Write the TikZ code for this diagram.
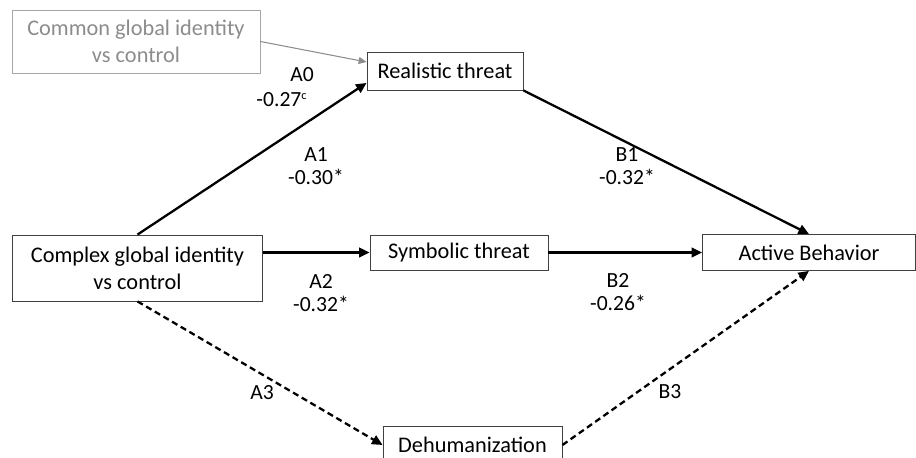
\documentclass[tikz,border=0pt]{standalone}
\usepackage{fontspec}
\setmainfont{Carlito}
\usepackage{tikz}
\usetikzlibrary{positioning,calc,arrows.meta}

\begin{document}
\begin{tikzpicture}[->, >={Triangle[length=6pt,width=5.5pt]},
 box/.style = {rectangle, draw=black!75, line width=0.5pt, inner sep=2pt, align=center, font=\fontsize{12.7}{15.5}\selectfont},
 lbl/.style = {align=center, inner sep=0pt, font=\fontsize{12.3}{12.8}\selectfont},
 every edge/.append style={line width=1.3pt},
 dashedge/.style={dash pattern=on 3.5pt off 2.2pt}]

\useasboundingbox (0,0) rectangle (18.32,-9.16);

% boxes
\node[box, draw=black!35, text=black!45, minimum width=4.96cm, minimum height=1.26cm] (common) at (2.72,-0.83) {Common global identity\\vs control};
\node[box, minimum width=3.12cm, minimum height=0.76cm] (real) at (8.90,-1.42) {Realistic threat};
\node[box, minimum width=5.0cm, minimum height=1.32cm] (cplx) at (2.75,-5.36) {Complex global identity\\vs control};
\node[box, minimum width=3.56cm, minimum height=0.70cm] (symb) at (9.18,-5.05) {Symbolic threat};
\node[box, minimum width=4.26cm, minimum height=0.72cm] (act) at (16.18,-5.05) {Active Behavior};
\node[box, minimum width=3.58cm, minimum height=0.76cm] (dehum) at (9.45,-8.90) {Dehumanization};

% labels
\node[lbl] (a0) at (6.04,-1.50) {A0};
\node[lbl] (a0v) at (5.64,-2.00) {-0.27\textsuperscript{\scriptsize c}};
\node[lbl] (a1) at (6.32,-3.32) {A1\\-0.30*};
\node[lbl] (b1) at (12.54,-3.32) {B1\\-0.32*};
\node[lbl] (a2) at (6.42,-5.86) {A2\\-0.32*};
\node[lbl] (b2) at (12.36,-5.84) {B2\\-0.26*};
\node[lbl] (a3) at (5.24,-7.86) {A3};
\node[lbl] (b3) at (13.40,-7.84) {B3};

\path
 (common.east) edge[draw=black!45, line width=0.6pt, >={Triangle[length=4.5pt,width=4pt]}] ([yshift=0.18cm]real.west)
 (cplx.north) edge ([yshift=0.15cm]real.south west)
 ([yshift=0.31cm]cplx.east) edge (symb.west)
 (cplx.south) edge[dashedge] (dehum.west)
 (real.south east) edge (act.north)
 (symb.east) edge (act.west)
 (dehum.east) edge[dashedge] (act.south);
\end{tikzpicture}
\end{document}
